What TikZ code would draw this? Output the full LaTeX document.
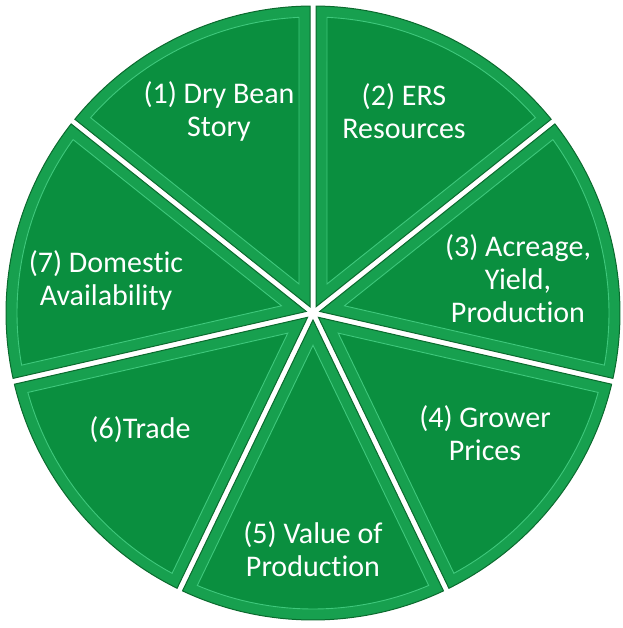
\documentclass[tikz,border=0pt]{standalone}
\usepackage{fontspec}
\setmainfont{Carlito}[Ligatures=NoCommon]

\definecolor{piegreen}{HTML}{0A8F3F}
\definecolor{rimgreen}{HTML}{17A04F}
\definecolor{edgegreen}{HTML}{0B6A2E}
\definecolor{shine}{HTML}{3FC87C}

\tikzset{
  outerslice/.style={fill=rimgreen, draw=edgegreen, line width=1pt},
  innerslice/.style={fill=piegreen, draw=shine, line width=0.9pt},
  slicetext/.style={text=white, align=center, font=\fontsize{30}{33}\selectfont}
}

\begin{document}
\begin{tikzpicture}[x=1pt,y=1pt]
  \useasboundingbox (-313,-315) rectangle (309,313);
  \def\R{307}
  \def\h{25.7143}
  % seven equal slices, first one starts at 12 o'clock
  \foreach \i in {0,...,6}{
    \pgfmathsetmacro\m{90-51.4286*(\i+0.5)}
    \pgfmathsetmacro\oa{\h-asin(3/\R)}
    \pgfmathsetmacro\ia{\h-asin(14/(\R-11))}
    \path[outerslice] (\m:{3/sin(\h)}) -- ({\m+\oa}:\R)
      arc[start angle=\m+\oa, end angle=\m-\oa, radius=\R] -- cycle;
    % bevelled face
    \path[innerslice] (\m:{14/sin(\h)}) -- ({\m+\ia}:{\R-11})
      arc[start angle=\m+\ia, end angle=\m-\ia, radius=\R-11] -- cycle;
  }
  \node[slicetext] (dry) at (-94,202) {(1) Dry Bean\\Story};
  \node[slicetext] (ers) at (91,202) {(2) ERS\\Resources};
  \node[slicetext] (acreage) at (205,34) {(3) Acreage,\\Yield,\\Production};
  \node[slicetext] (grower) at (172,-120) {(4) Grower\\Prices};
  \node[slicetext] (value) at (0,-236) {(5) Value of\\Production};
  \node[slicetext] (trade) at (-173,-117) {(6)Trade};
  \node[slicetext] (domestic) at (-207,33) {(7) Domestic\\Availability};
\end{tikzpicture}
\end{document}
